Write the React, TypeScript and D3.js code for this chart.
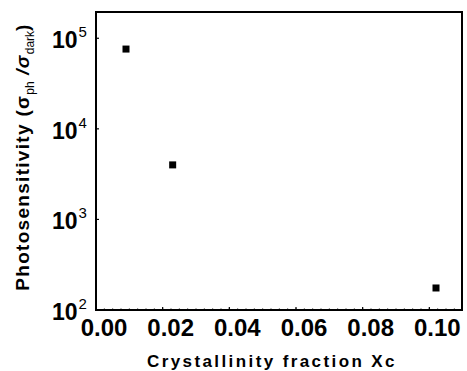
import React, { useEffect, useRef } from 'react'
import * as d3 from 'd3'

// crystallinity fraction Xc vs photosensitivity (sigma_ph / sigma_dark)
const xcValues = [0.009, 0.023, 0.102]
const sensitivity = [76000, 4000, 175]
const xTicks = [0, 0.02, 0.04, 0.06, 0.08, 0.1]
const yExponents = [2, 3, 4, 5]

const W = 467
const H = 371
const margin = { top: 12, right: 5, bottom: 61, left: 96 }
const FONT = 'Liberation Sans, Arial, sans-serif'

const Chart = () => {
  const ref = useRef<SVGSVGElement>(null)

  useEffect(() => {
    const svg = d3.select(ref.current)
    svg.selectAll('*').remove()

    const width = W - margin.left - margin.right
    const height = H - margin.top - margin.bottom

    const x = d3.scaleLinear().domain([0, 0.1098]).range([0, width])
    const y = d3.scaleLog().domain([100, Math.pow(10, 5.29)]).range([height, 0])

    const g = svg.append('g').attr('transform', `translate(${margin.left},${margin.top})`)

    // minor x ticks
    const minorX = d3.range(0, 0.1096, 0.0025)
    g.selectAll('.mx')
      .data(minorX)
      .enter()
      .append('line')
      .attr('x1', (d) => x(d))
      .attr('x2', (d) => x(d))
      .attr('y1', height)
      .attr('y2', height - 1.5)
      .attr('stroke', '#000')
      .attr('stroke-width', 1)

    g.selectAll('.tx')
      .data(xTicks)
      .enter()
      .append('line')
      .attr('x1', (d) => x(d))
      .attr('x2', (d) => x(d))
      .attr('y1', height)
      .attr('y2', height - 3)
      .attr('stroke', '#000')
      .attr('stroke-width', 1.2)

    g.selectAll('.ty')
      .data(yExponents)
      .enter()
      .append('line')
      .attr('x1', 0)
      .attr('x2', 3)
      .attr('y1', (d) => y(Math.pow(10, d)))
      .attr('y2', (d) => y(Math.pow(10, d)))
      .attr('stroke', '#000')
      .attr('stroke-width', 1.2)

    // frame
    g.append('rect')
      .attr('x', 0)
      .attr('y', 0)
      .attr('width', width)
      .attr('height', height)
      .attr('fill', 'none')
      .attr('stroke', '#000')
      .attr('stroke-width', 2)

    // x tick labels
    g.selectAll('.xl')
      .data(xTicks)
      .enter()
      .append('text')
      .attr('x', (d) => x(d) + 8)
      .attr('y', height + 26)
      .attr('text-anchor', 'middle')
      .attr('font-family', FONT)
      .attr('font-weight', 'bold')
      .attr('font-size', 24)
      .text((d) => d3.format('.2f')(d))

    // y tick labels 10^n
    const yl = g.selectAll('.yl')
      .data(yExponents)
      .enter()
      .append('text')
      .attr('x', -20)
      .attr('y', (d) => y(Math.pow(10, d)) + 10)
      .attr('font-family', FONT)
      .attr('font-size', 23)
    yl.append('tspan').attr('x', -44).attr('font-weight', 'bold').text('10')
    yl.append('tspan')
      .attr('font-size', 15)
      .attr('dy', -11)
      .attr('dx', 1)
      .text((d) => String(d))

    // points
    const pts = xcValues.map((v, i) => ({ xc: v, s: sensitivity[i] }))
    g.selectAll('.pt')
      .data(pts)
      .enter()
      .append('rect')
      .attr('x', (d) => x(d.xc) - 3.5)
      .attr('y', (d) => y(d.s) - 3.5)
      .attr('width', 7)
      .attr('height', 7)
      .attr('fill', '#000')

    // x axis title
    svg.append('text')
      .attr('x', 272)
      .attr('y', 367)
      .attr('text-anchor', 'middle')
      .attr('font-family', FONT)
      .attr('font-weight', 'bold')
      .attr('font-size', 17)
      .attr('letter-spacing', 2.4)
      .text('Crystallinity fraction Xc')

    // y axis title
    const yt = svg.append('text')
      .attr('transform', `translate(29,${157}) rotate(-90)`)
      .attr('text-anchor', 'middle')
      .attr('font-family', FONT)
      .attr('font-weight', 'bold')
      .attr('font-size', 19)
      .attr('letter-spacing', 1.3)
    yt.append('tspan').text('Photosensitivity (σ')
    yt.append('tspan').attr('font-size', 12).attr('font-weight', 'normal').attr('letter-spacing', 0).attr('dy', 5).text('ph')
    yt.append('tspan').attr('dy', -5).attr('font-style', 'italic').text(' /σ')
    yt.append('tspan').attr('font-size', 12).attr('font-weight', 'normal').attr('letter-spacing', 0).attr('dy', 5).text('dark')
    yt.append('tspan').attr('dy', -5).text(')')
  }, [])

  return <svg ref={ref} width={W} height={H} style={{ display: 'block' }} />
}

export default function App() {
  return (
    <div style={{ position: 'absolute', left: 0, top: 0 }}>
      <Chart />
    </div>
  )
}
